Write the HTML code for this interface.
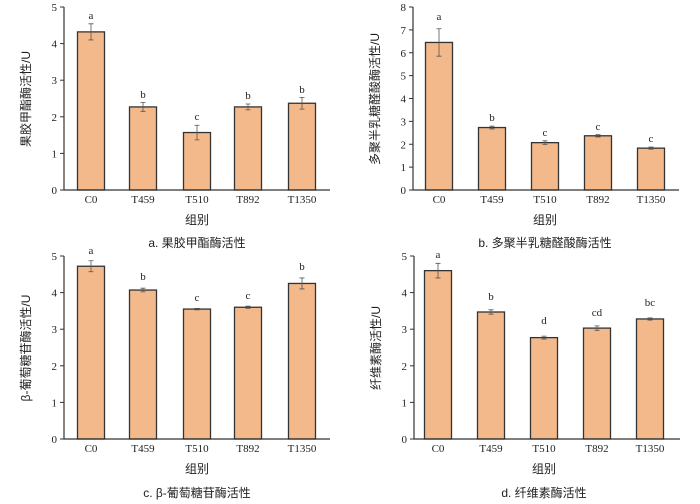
<!DOCTYPE html>
<html><head><meta charset="utf-8"><style>
body{margin:0;background:#fff}
svg{display:block}
text{font-family:"Liberation Serif","Noto Serif CJK SC",serif;font-size:11px;fill:#222}
.cn{font-family:"Liberation Sans","Noto Sans CJK SC",sans-serif}
</style></head><body>
<svg id="s" width="700" height="504" xmlns="http://www.w3.org/2000/svg">
<g id="pa" transform="translate(64,7)">
<text x="-7" y="4" text-anchor="end">5</text><text x="-7" y="40.6" text-anchor="end">4</text><text x="-7" y="77.2" text-anchor="end">3</text><text x="-7" y="113.8" text-anchor="end">2</text><text x="-7" y="150.4" text-anchor="end">1</text><text x="-7" y="187" text-anchor="end">0</text>
<text x="27" y="196" text-anchor="middle">C0</text><text x="79" y="196" text-anchor="middle">T459</text><text x="133" y="196" text-anchor="middle">T510</text><text x="184" y="196" text-anchor="middle">T892</text><text x="238" y="196" text-anchor="middle">T1350</text>
<text class="cn" x="133" y="217" text-anchor="middle" style="font-size:12px">组别</text>
<text class="cn" x="133" y="240" text-anchor="middle" style="font-size:12px">a. 果胶甲酯酶活性</text>
<text class="cn" transform="translate(-34,92) rotate(-90)" text-anchor="middle" style="font-size:12px">果胶甲酯酶活性/U</text>
<text x="27" y="12" text-anchor="middle">a</text><text x="79" y="91" text-anchor="middle">b</text><text x="133" y="113" text-anchor="middle">c</text><text x="184" y="92" text-anchor="middle">b</text><text x="238" y="86" text-anchor="middle">b</text>
</g>
<g id="pb" transform="translate(413,7)">
<text x="-7" y="4" text-anchor="end">8</text><text x="-7" y="26.9" text-anchor="end">7</text><text x="-7" y="49.8" text-anchor="end">6</text><text x="-7" y="72.6" text-anchor="end">5</text><text x="-7" y="95.5" text-anchor="end">4</text><text x="-7" y="118.4" text-anchor="end">3</text><text x="-7" y="141.3" text-anchor="end">2</text><text x="-7" y="164.1" text-anchor="end">1</text><text x="-7" y="187" text-anchor="end">0</text>
<text x="26" y="196" text-anchor="middle">C0</text><text x="79" y="196" text-anchor="middle">T459</text><text x="132" y="196" text-anchor="middle">T510</text><text x="185" y="196" text-anchor="middle">T892</text><text x="238" y="196" text-anchor="middle">T1350</text>
<text class="cn" x="132" y="217" text-anchor="middle" style="font-size:12px">组别</text>
<text class="cn" x="132" y="240" text-anchor="middle" style="font-size:12px">b. 多聚半乳糖醛酸酶活性</text>
<text class="cn" transform="translate(-34,92) rotate(-90)" text-anchor="middle" style="font-size:12px">多聚半乳糖醛酸酶活性/U</text>
<text x="26" y="13" text-anchor="middle">a</text><text x="79" y="114" text-anchor="middle">b</text><text x="132" y="129" text-anchor="middle">c</text><text x="185" y="123" text-anchor="middle">c</text><text x="238" y="135" text-anchor="middle">c</text>
</g>
<g id="pc" transform="translate(64,256)">
<text x="-7" y="4" text-anchor="end">5</text><text x="-7" y="40.6" text-anchor="end">4</text><text x="-7" y="77.2" text-anchor="end">3</text><text x="-7" y="113.8" text-anchor="end">2</text><text x="-7" y="150.4" text-anchor="end">1</text><text x="-7" y="187" text-anchor="end">0</text>
<text x="27" y="196" text-anchor="middle">C0</text><text x="79" y="196" text-anchor="middle">T459</text><text x="133" y="196" text-anchor="middle">T510</text><text x="184" y="196" text-anchor="middle">T892</text><text x="238" y="196" text-anchor="middle">T1350</text>
<text class="cn" x="133" y="217" text-anchor="middle" style="font-size:12px">组别</text>
<text class="cn" x="133" y="241" text-anchor="middle" style="font-size:12px">c. β-葡萄糖苷酶活性</text>
<text class="cn" transform="translate(-34,92) rotate(-90)" text-anchor="middle" style="font-size:12px">β-葡萄糖苷酶活性/U</text>
<text x="27" y="-2" text-anchor="middle">a</text><text x="79" y="24" text-anchor="middle">b</text><text x="133" y="45" text-anchor="middle">c</text><text x="184" y="43" text-anchor="middle">c</text><text x="238" y="14" text-anchor="middle">b</text>
</g>
<g id="pd" transform="translate(414,256)">
<text x="-7" y="4" text-anchor="end">5</text><text x="-7" y="40.6" text-anchor="end">4</text><text x="-7" y="77.2" text-anchor="end">3</text><text x="-7" y="113.8" text-anchor="end">2</text><text x="-7" y="150.4" text-anchor="end">1</text><text x="-7" y="187" text-anchor="end">0</text>
<text x="24" y="196" text-anchor="middle">C0</text><text x="77" y="196" text-anchor="middle">T459</text><text x="130" y="196" text-anchor="middle">T510</text><text x="183" y="196" text-anchor="middle">T892</text><text x="236" y="196" text-anchor="middle">T1350</text>
<text class="cn" x="130" y="217" text-anchor="middle" style="font-size:12px">组别</text>
<text class="cn" x="130" y="241" text-anchor="middle" style="font-size:12px">d. 纤维素酶活性</text>
<text class="cn" transform="translate(-34,92) rotate(-90)" text-anchor="middle" style="font-size:12px">纤维素酶活性/U</text>
<text x="24" y="2" text-anchor="middle">a</text><text x="77" y="44" text-anchor="middle">b</text><text x="130" y="68" text-anchor="middle">d</text><text x="183" y="60" text-anchor="middle">cd</text><text x="236" y="50" text-anchor="middle">bc</text>
</g>
</svg>
<script>
var P=[
 ["pa",5,[27,79,133,184,238],[4.32,2.27,1.57,2.27,2.37],[.22,.12,.2,.08,.16]],
 ["pb",8,[26,79,132,185,238],[6.45,2.73,2.07,2.37,1.83],[.6,.06,.08,.05,.05]],
 ["pc",5,[27,79,133,184,238],[4.72,4.07,3.55,3.6,4.25],[.15,.05,.02,.03,.15]],
 ["pd",5,[24,77,130,183,236],[4.6,3.47,2.77,3.03,3.28],[.2,.06,.04,.06,.03]]];
var NS="http://www.w3.org/2000/svg";
function el(g,t,a){var e=document.createElementNS(NS,t);for(var k in a)e.setAttribute(k,a[k]);g.appendChild(e);}
P.forEach(function(p){var g=document.getElementById(p[0]),H=183,m=p[1],s=H/m;
 for(var i=0;i<5;i++){var v=p[3][i],e=p[4][i],cx=p[2][i],y=H-v*s;
  el(g,"rect",{x:cx-13.5,y:y,width:27,height:v*s,fill:"#f4b98b",stroke:"#333","stroke-width":1.3});
  el(g,"path",{d:"M"+cx+" "+(H-(v+e)*s)+"V"+(H-(v-e)*s)+"M"+(cx-2.5)+" "+(H-(v+e)*s)+"h5M"+(cx-2.5)+" "+(H-(v-e)*s)+"h5",stroke:"#555","stroke-width":0.8,fill:"none"});}
 el(g,"path",{d:"M0 0V"+H+"H266",stroke:"#333","stroke-width":1.2,fill:"none"});
 for(var j=0;j<=m;j++)el(g,"path",{d:"M0 "+(j*s)+"h-4",stroke:"#333","stroke-width":1});
});
</script>
</body></html>
